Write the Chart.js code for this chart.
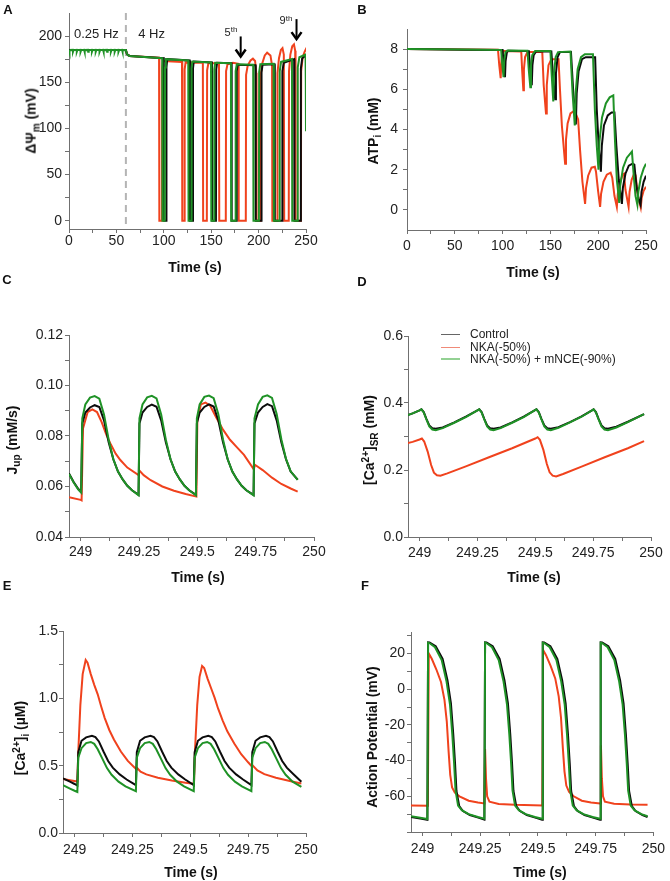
<!DOCTYPE html>
<html>
<head>
<meta charset="utf-8">
<script src="https://cdn.jsdelivr.net/npm/chart.js@4.4.0/dist/chart.umd.min.js"></script>
<style>
  body { margin: 0; background: #fff; width: 670px; height: 881px; position: relative; overflow: hidden;
         font-family: "Liberation Sans", Arial, Helvetica, sans-serif; color: #111; }
  .panel { position: absolute; }
  .lbl { position: absolute; font-weight: bold; font-size: 13px; transform: translate(-50%, -50%); }
  .xt { position: absolute; font-weight: bold; font-size: 14px; transform: translate(-50%, -50%); white-space: nowrap; }
  .yt { position: absolute; font-weight: bold; font-size: 14px; white-space: nowrap;
        transform: translate(-50%, -50%) rotate(-90deg); }
  .yt sub, .yt sup { font-size: 10px; }
  .leg { position: absolute; font-size: 12px; line-height: 14px; white-space: nowrap; color: #222; }
  .legln { position: absolute; width: 19px; }
</style>
</head>
<body>

<div class="lbl" style="left:8px;top:9px">A</div>
<div class="lbl" style="left:362px;top:9px">B</div>
<div class="lbl" style="left:7px;top:279px">C</div>
<div class="lbl" style="left:362px;top:281px">D</div>
<div class="lbl" style="left:7px;top:585px">E</div>
<div class="lbl" style="left:365px;top:585px">F</div>

<div class="xt" style="left:195px;top:267px">Time (s)</div>
<div class="xt" style="left:533px;top:272px">Time (s)</div>
<div class="xt" style="left:198px;top:577px">Time (s)</div>
<div class="xt" style="left:534px;top:577px">Time (s)</div>
<div class="xt" style="left:191px;top:872px">Time (s)</div>
<div class="xt" style="left:540px;top:872px">Time (s)</div>

<div class="yt" style="left:32px;top:121px">&Delta;&Psi;<sub>m</sub> (mV)</div>
<div class="yt" style="left:374px;top:131px">ATP<sub>i</sub> (mM)</div>
<div class="yt" style="left:13px;top:440px">J<sub>up</sub> (mM/s)</div>
<div class="yt" style="left:370px;top:440px">[Ca<sup>2+</sup>]<sub>SR</sub> (mM)</div>
<div class="yt" style="left:21px;top:738px">[Ca<sup>2+</sup>]<sub>i</sub> (&micro;M)</div>
<div class="yt" style="left:372px;top:737px">Action Potential (mV)</div>

<div class="legln" style="left:441px;top:334px;height:1px;background:#666"></div>
<div class="leg" style="left:470px;top:327px">Control</div>
<div class="legln" style="left:441px;top:347px;height:1px;background:#f08a78"></div>
<div class="leg" style="left:470px;top:340px">NKA(-50%)</div>
<div class="legln" style="left:441px;top:358px;height:2px;background:#93d193"></div>
<div class="leg" style="left:470px;top:352px">NKA(-50%) + mNCE(-90%)</div>

<script>
// ---------- tick values ----------
const longTicksX = [0, 25, 50, 75, 100, 125, 150, 175, 200, 225, 250];
const longLabelsX = [0, 50, 100, 150, 200, 250];
const zoomTicksX = [249, 249.125, 249.25, 249.375, 249.5, 249.625, 249.75, 249.875, 250];
const zoomLabelsX = [249, 249.25, 249.5, 249.75, 250];

const aTicksY = [0, 25, 50, 75, 100, 125, 150, 175, 200];
const aLabelsY = [0, 50, 100, 150, 200];
const bTicksY = [0, 1, 2, 3, 4, 5, 6, 7, 8];
const bLabelsY = [0, 2, 4, 6, 8];
const cTicksY = [0.04, 0.05, 0.06, 0.07, 0.08, 0.09, 0.10, 0.11, 0.12];
const cLabelsY = [0.04, 0.06, 0.08, 0.10, 0.12];
const dTicksY = [0, 0.1, 0.2, 0.3, 0.4, 0.5, 0.6];
const dLabelsY = [0, 0.2, 0.4, 0.6];
const eTicksY = [0, 0.25, 0.5, 0.75, 1.0, 1.25, 1.5];
const eLabelsY = [0, 0.5, 1.0, 1.5];
const fTicksY = [-80, -70, -60, -50, -40, -30, -20, -10, 0, 10, 20, 30];
const fLabelsY = [-60, -40, -20, 0, 20];

// ---------- A: mitochondrial membrane potential (mV) vs time (s) ----------
const aGreen = [[0,185],[0.2,183],[0.8,184.8],[4,185],[4.2,183],[4.8,184.8],[8,185],[8.2,183],[8.8,184.8],
  [12,185],[12.2,183],[12.8,184.8],[16,185],[16.2,183],[16.8,184.8],[20,185],[20.2,183],[20.8,184.8],
  [24,185],[24.2,183],[24.8,184.8],[28,185],[28.2,183],[28.8,184.8],[32,185],[32.2,183],[32.8,184.8],
  [36,185],[36.2,183],[36.8,184.8],[40,185],[40.2,183],[40.8,184.8],[44,185],[44.2,183],[44.8,184.8],
  [48,185],[48.2,183],[48.8,184.8],[52,185],[52.2,183],[52.8,184.8],[56,185],[56.2,183],[56.8,184.8],
  [60,185],[61,181],[62,179.5],[64,178.5],[98.3,176],[98.6,0],[101,0],[101.3,166],[102.1,175],
  [125.8,173.5],[126.1,0],[129,0],[129.3,165],[130.1,172.5],[149.8,171.5],[150.1,0],[153,0],[153.3,164],[154.2,171],
  [170.8,170.5],[171.1,0],[175.5,0],[175.8,162],[177,169.5],[194.3,169],[194.6,0],[200.3,0],[200.6,161],[201.8,169.5],
  [215.8,170],[216.1,0],[222,0],[222.3,162],[223.7,172],[235.2,175],[235.5,0],[241,0],[241.3,166],[243,177],
  [249.5,180],[249.8,150],[250,97]];
const aBlack = [[0,185],[60,185],[61,181],[62,179.5],[64,178.5],[100,176],[100.3,0],[102.5,0],[102.8,166],[103.6,175],
  [127.3,173.5],[127.6,0],[130.5,0],[130.8,165],[131.6,172.5],[150.8,171.5],[151.1,0],[155,0],[155.3,164],[156.2,171],
  [171.3,170.5],[171.6,0],[176.6,0],[176.9,162],[178,169],[196.7,168.5],[197,0],[202.8,0],[203.1,161],[204.2,169],
  [216.8,169.5],[217.1,0],[224.8,0],[225.1,162],[226.5,171],[237.5,175],[237.8,0],[244.3,0],[244.6,165],[246,176],[250,179]];
const aRed = [[0,185],[60,185],[61,181],[62,179.5],[64,178.5],[95,176.5],[95.3,0],[98,0],[98.3,165],[99.2,173],
  [119.2,172],[119.5,0],[121.7,0],[122,164],[123,171.5],[141.2,171],[141.5,0],[145.4,0],[145.7,163],[147,170.5],
  [158.2,170.5],[158.5,0],[165.4,0],[165.7,162],[167.2,169.5],[173,171],[178.7,170],[179,0],[186.5,0],[186.8,158],
  [188.5,168],[191.5,173.5],[194,175.5],[196.3,173],[197.5,160],[197.8,0],[202,0],[202.3,158],[204,171],[206.5,179],
  [209,182],[212.5,179],[214.2,168],[214.5,0],[219.6,0],[219.9,160],[221.5,176],[223.5,185],[225.2,187],[226.6,180],
  [227,0],[231.8,0],[232.1,162],[233.5,180],[235.5,189],[237.3,191],[238.6,184],[239,0],[244.6,0],[244.9,162],
  [246.5,177],[248.5,183],[249.5,185],[250,183]];

// ---------- B: ATP (mM) vs time (s) ----------
const bGreen = [[0,8],[60,7.98],[98.5,7.95],[99.5,7.3],[101,6.6],[101.6,7.4],[103,7.85],[105,7.93],[126,7.92],
  [127.5,6.9],[129,6.1],[129.7,7.2],[131,7.7],[134,7.9],[150,7.9],[151.5,6.6],[153,5.4],[153.8,6.8],[155.5,7.6],
  [158,7.85],[171,7.88],[173.2,5.8],[175.5,4.2],[176.4,5.8],[178.5,7.0],[182,7.6],[186,7.75],[194.5,7.75],[196.5,5.0],
  [198.5,3.2],[200.3,2.0],[201.3,3.4],[204,4.6],[208,5.3],[212,5.6],[215.8,5.7],[217.5,3.5],[219.5,1.5],[222,0.35],
  [223,1.2],[226,2.1],[230,2.6],[235.3,2.9],[237,1.8],[239,0.7],[241,0.25],[242,0.9],[244.5,1.6],[247.5,2.05],[250,2.3]];
const bBlack = [[0,8],[60,7.97],[100,7.95],[101,7.3],[102.5,6.6],[103.1,7.4],[104.5,7.85],[106,7.92],[127.5,7.9],
  [129,6.9],[130.5,6.2],[131.2,7.2],[132.5,7.7],[135,7.88],[151,7.88],[153,6.5],[155,5.5],[155.8,6.8],[157.5,7.6],
  [160,7.85],[171.5,7.85],[174,5.8],[176.6,4.25],[177.5,5.8],[179.5,6.9],[183,7.5],[187,7.6],[196.8,7.6],[198.5,5.0],
  [200.5,3.2],[202.8,1.9],[203.8,3.2],[206,4.2],[210,4.7],[214,4.85],[217,4.85],[219,3.2],[221.5,1.5],[224.8,0.3],
  [225.8,1.1],[228.5,1.8],[232,2.2],[236,2.3],[237.8,2.25],[240,1.2],[242.5,0.5],[244.3,0.25],[245.3,0.9],
  [247.5,1.4],[250,1.7]];
const bRed = [[0,8],[95,7.97],[95.3,7.9],[96.5,7.2],[98,6.55],[98.6,7.3],[99.5,7.75],[101,7.9],[119.5,7.88],
  [120.5,6.9],[121.7,5.95],[122.3,7.0],[123.5,7.6],[126,7.85],[141.5,7.85],[143,6.2],[145.4,4.8],[146.2,6.2],
  [148,7.2],[151,7.5],[158.5,7.5],[160,6.0],[162,4.2],[165.4,2.3],[166.3,3.5],[168,4.3],[171,4.8],[174,4.9],
  [176,4.85],[179,4.5],[181,3.0],[183.5,1.4],[186.3,0.3],[187.3,1.1],[189.5,1.7],[193,2.1],[196.5,2.15],
  [197.7,1.9],[200,0.9],[202,0.15],[203,0.8],[205.5,1.4],[209,1.75],[213,1.85],[214.7,1.6],[217,0.7],[219.5,0.15],
  [220.5,0.8],[222.5,1.3],[225.5,1.75],[227,1.8],[228.5,1.0],[231.8,0.15],[232.8,0.9],[235,1.5],[238,1.85],
  [239.2,1.7],[241.5,0.7],[244.5,0.12],[245.5,0.6],[247.5,0.95],[250,1.15]];

// ---------- C: Jup (mM/s), last second ----------
const cGreen = [[248.95,0.065],[248.97,0.0616],[248.99,0.0588],[249.002,0.0576],[249.007,0.087],[249.02,0.0925],
  [249.04,0.0952],[249.06,0.0958],[249.08,0.0948],[249.1,0.0885],[249.12,0.0785],[249.14,0.0708],[249.16,0.0659],
  [249.18,0.0628],[249.2,0.0603],[249.22,0.0585],[249.248,0.0565],
  [249.252,0.087],[249.265,0.0925],[249.285,0.0953],[249.305,0.0959],[249.325,0.0949],[249.345,0.0885],[249.365,0.0785],
  [249.385,0.0708],[249.405,0.0659],[249.425,0.0628],[249.445,0.0603],[249.465,0.0585],[249.494,0.0565],
  [249.498,0.087],[249.51,0.0925],[249.53,0.0955],[249.55,0.096],[249.57,0.095],[249.59,0.0886],[249.61,0.0786],
  [249.63,0.0708],[249.65,0.0659],[249.67,0.0628],[249.69,0.0603],[249.71,0.0585],[249.741,0.0565],
  [249.745,0.087],[249.76,0.0925],[249.78,0.0955],[249.8,0.0961],[249.82,0.0951],[249.84,0.0887],[249.86,0.0787],
  [249.88,0.0709],[249.9,0.066],[249.93,0.0626]];
const cBlack = [[248.95,0.0652],[248.97,0.0618],[248.99,0.059],[249.002,0.0578],[249.007,0.085],[249.02,0.0893],
  [249.04,0.0913],[249.06,0.0922],[249.08,0.0915],[249.1,0.0862],[249.12,0.0775],[249.14,0.0708],[249.16,0.0659],
  [249.18,0.0628],[249.2,0.0603],[249.22,0.0585],[249.248,0.0567],
  [249.252,0.085],[249.265,0.0893],[249.285,0.0915],[249.305,0.0924],[249.325,0.0916],[249.345,0.0862],[249.365,0.0775],
  [249.385,0.0708],[249.405,0.0659],[249.425,0.0628],[249.445,0.0603],[249.465,0.0585],[249.494,0.0567],
  [249.498,0.085],[249.51,0.0893],[249.53,0.0915],[249.55,0.0925],[249.57,0.0917],[249.59,0.0862],[249.61,0.0775],
  [249.63,0.0708],[249.65,0.0659],[249.67,0.0628],[249.69,0.0603],[249.71,0.0585],[249.741,0.0567],
  [249.745,0.085],[249.76,0.0893],[249.78,0.0915],[249.8,0.0926],[249.82,0.0918],[249.84,0.0862],[249.86,0.0775],
  [249.88,0.0708],[249.9,0.0659],[249.93,0.0627]];
const cRed = [[248.95,0.0558],[249.0,0.0547],[249.004,0.0545],[249.01,0.083],[249.03,0.0895],[249.05,0.0905],
  [249.07,0.0895],[249.09,0.0855],[249.11,0.0805],[249.13,0.0765],[249.15,0.073],[249.17,0.0705],[249.2,0.0675],
  [249.248,0.0645],[249.252,0.0663],[249.27,0.0645],[249.3,0.0625],[249.35,0.06],[249.4,0.0583],[249.45,0.057],
  [249.496,0.056],[249.5,0.086],[249.515,0.0925],[249.535,0.0932],[249.555,0.092],[249.58,0.0875],[249.61,0.0825],
  [249.64,0.0785],[249.67,0.0755],[249.7,0.0725],[249.742,0.0668],[249.747,0.0686],[249.78,0.0665],[249.82,0.0635],
  [249.86,0.061],[249.9,0.0592],[249.93,0.058]];

// ---------- D: SR calcium (mM) ----------
const dGreen = [[248.94,0.362],[248.97,0.369],[249.0,0.378],[249.008,0.381],[249.018,0.372],[249.03,0.35],
  [249.042,0.33],[249.055,0.321],[249.07,0.319],[249.1,0.325],[249.15,0.341],[249.2,0.358],[249.25,0.378],
  [249.258,0.381],[249.268,0.372],[249.28,0.35],[249.292,0.33],[249.305,0.321],[249.32,0.319],[249.35,0.325],
  [249.4,0.341],[249.45,0.358],[249.497,0.378],[249.505,0.381],[249.515,0.372],[249.527,0.35],[249.539,0.33],
  [249.552,0.321],[249.567,0.319],[249.6,0.326],[249.65,0.342],[249.7,0.359],[249.745,0.378],[249.752,0.381],
  [249.762,0.372],[249.774,0.35],[249.786,0.33],[249.799,0.321],[249.814,0.319],[249.85,0.327],[249.9,0.343],
  [249.97,0.367]];
const dBlack = [[248.94,0.362],[248.97,0.369],[249.0,0.378],[249.008,0.381],[249.018,0.373],[249.03,0.352],
  [249.042,0.333],[249.055,0.325],[249.07,0.323],[249.1,0.327],[249.15,0.342],[249.2,0.359],[249.25,0.378],
  [249.258,0.381],[249.268,0.373],[249.28,0.352],[249.292,0.333],[249.305,0.325],[249.32,0.323],[249.35,0.327],
  [249.4,0.342],[249.45,0.359],[249.497,0.378],[249.505,0.381],[249.515,0.373],[249.527,0.352],[249.539,0.333],
  [249.552,0.325],[249.567,0.323],[249.6,0.328],[249.65,0.343],[249.7,0.36],[249.745,0.378],[249.752,0.381],
  [249.762,0.373],[249.774,0.352],[249.786,0.333],[249.799,0.325],[249.814,0.323],[249.85,0.329],[249.9,0.344],
  [249.97,0.367]];
const dRed = [[248.94,0.279],[248.97,0.284],[249.0,0.291],[249.01,0.294],[249.02,0.285],[249.035,0.255],
  [249.05,0.215],[249.062,0.192],[249.075,0.184],[249.09,0.183],[249.12,0.19],[249.2,0.211],[249.3,0.238],
  [249.4,0.265],[249.5,0.294],[249.51,0.298],[249.52,0.29],[249.535,0.26],[249.55,0.218],[249.562,0.193],
  [249.575,0.183],[249.59,0.181],[249.62,0.188],[249.7,0.21],[249.8,0.238],[249.9,0.265],[249.97,0.286]];

// ---------- E: cytosolic calcium (uM) ----------
const eGreen = [[248.95,0.355],[248.98,0.33],[249.0,0.314],[249.012,0.305],[249.016,0.56],[249.03,0.63],
  [249.05,0.668],[249.07,0.676],[249.085,0.662],[249.1,0.622],[249.12,0.552],[249.14,0.482],[249.16,0.432],
  [249.19,0.381],[249.22,0.346],[249.265,0.31],
  [249.269,0.56],[249.283,0.63],[249.303,0.668],[249.323,0.676],[249.338,0.662],[249.353,0.622],[249.373,0.552],
  [249.393,0.482],[249.413,0.432],[249.443,0.381],[249.473,0.346],[249.515,0.31],
  [249.519,0.56],[249.533,0.63],[249.553,0.668],[249.573,0.676],[249.588,0.662],[249.603,0.622],[249.623,0.552],
  [249.643,0.482],[249.663,0.432],[249.693,0.381],[249.723,0.346],[249.764,0.31],
  [249.768,0.56],[249.782,0.63],[249.802,0.668],[249.822,0.676],[249.837,0.662],[249.852,0.622],[249.872,0.552],
  [249.892,0.482],[249.912,0.432],[249.942,0.381],[249.98,0.342]];
const eBlack = [[248.95,0.405],[248.98,0.381],[249.0,0.364],[249.012,0.352],[249.016,0.6],[249.03,0.685],
  [249.05,0.71],[249.075,0.722],[249.09,0.712],[249.105,0.68],[249.125,0.605],[249.145,0.535],[249.165,0.485],
  [249.195,0.435],[249.225,0.397],[249.265,0.355],
  [249.269,0.6],[249.283,0.685],[249.303,0.71],[249.328,0.722],[249.343,0.712],[249.358,0.68],[249.378,0.605],
  [249.398,0.535],[249.418,0.485],[249.448,0.435],[249.478,0.397],[249.515,0.355],
  [249.519,0.6],[249.533,0.685],[249.553,0.71],[249.578,0.722],[249.593,0.712],[249.608,0.68],[249.628,0.605],
  [249.648,0.535],[249.668,0.485],[249.698,0.435],[249.728,0.397],[249.764,0.355],
  [249.768,0.6],[249.782,0.685],[249.802,0.71],[249.827,0.722],[249.842,0.712],[249.857,0.68],[249.877,0.605],
  [249.897,0.535],[249.917,0.485],[249.947,0.435],[249.98,0.38]];
const eRed = [[248.95,0.402],[248.98,0.392],[249.012,0.382],[249.016,0.6],[249.025,0.95],[249.035,1.18],
  [249.048,1.285],[249.056,1.265],[249.07,1.18],[249.085,1.1],[249.1,1.03],[249.115,0.94],[249.13,0.855],
  [249.15,0.765],[249.17,0.695],[249.2,0.605],[249.23,0.535],[249.26,0.485],[249.268,0.47],[249.272,0.48],
  [249.285,0.455],[249.31,0.435],[249.36,0.41],[249.42,0.39],[249.48,0.373],[249.516,0.365],[249.52,0.6],
  [249.53,0.95],[249.54,1.16],[249.551,1.24],[249.56,1.225],[249.575,1.145],[249.59,1.075],[249.605,1.005],
  [249.62,0.925],[249.64,0.835],[249.66,0.755],[249.69,0.665],[249.72,0.585],[249.75,0.525],[249.766,0.495],
  [249.77,0.5],[249.79,0.465],[249.82,0.437],[249.87,0.41],[249.93,0.386],[249.98,0.367]];

// ---------- F: action potential (mV) ----------
const fGreen = [[248.95,-71.2],[248.99,-72],[249.021,-72.7],[249.024,26],[249.03,25.8],[249.054,23.5],[249.083,16.3],
  [249.104,4.2],[249.119,-8.7],[249.129,-25.4],[249.137,-42],[249.143,-56.9],[249.154,-65.2],[249.17,-67.8],
  [249.2,-70],[249.24,-71.6],[249.268,-72.6],
  [249.271,26],[249.277,25.8],[249.301,23.5],[249.33,16.3],[249.351,4.2],[249.366,-8.7],[249.376,-25.4],[249.384,-42],
  [249.39,-56.9],[249.401,-65.2],[249.417,-67.8],[249.447,-70],[249.487,-71.6],[249.518,-72.6],
  [249.521,26],[249.527,25.8],[249.551,23.5],[249.58,16.3],[249.601,4.2],[249.616,-8.7],[249.626,-25.4],[249.634,-42],
  [249.64,-56.9],[249.651,-65.2],[249.667,-67.8],[249.697,-70],[249.737,-71.6],[249.769,-72.6],
  [249.772,26],[249.778,25.8],[249.802,23.5],[249.831,16.3],[249.852,4.2],[249.867,-8.7],[249.877,-25.4],[249.885,-42],
  [249.891,-56.9],[249.902,-65.2],[249.918,-67.8],[249.948,-70],[249.975,-71.2]];
const fBlack = [[248.95,-71.6],[248.99,-72.5],[249.021,-73.2],[249.024,26.2],[249.03,26.1],[249.057,24],[249.087,17],
  [249.108,5],[249.123,-8],[249.133,-25],[249.141,-42],[249.147,-57],[249.159,-65.5],[249.175,-68.3],
  [249.205,-70.5],[249.245,-72.1],[249.268,-73.1],
  [249.271,26.2],[249.277,26.1],[249.304,24],[249.334,17],[249.355,5],[249.37,-8],[249.38,-25],[249.388,-42],
  [249.394,-57],[249.406,-65.5],[249.422,-68.3],[249.452,-70.5],[249.492,-72.1],[249.518,-73.1],
  [249.521,26.2],[249.527,26.1],[249.554,24],[249.584,17],[249.605,5],[249.62,-8],[249.63,-25],[249.638,-42],
  [249.644,-57],[249.656,-65.5],[249.672,-68.3],[249.702,-70.5],[249.742,-72.1],[249.769,-73.1],
  [249.772,26.2],[249.778,26.1],[249.805,24],[249.835,17],[249.856,5],[249.871,-8],[249.881,-25],[249.889,-42],
  [249.895,-57],[249.907,-65.5],[249.923,-68.3],[249.953,-70.5],[249.975,-71.6]];
const fRed = [[248.95,-65.2],[249.023,-65.3],[249.027,20],[249.04,17],[249.06,11],[249.08,4],[249.095,-6],
  [249.105,-18],[249.113,-35],[249.12,-48],[249.128,-55],[249.14,-58],[249.16,-60],[249.2,-62.5],[249.24,-63.5],
  [249.268,-64],[249.271,-33.5],[249.275,-50],[249.28,-60],[249.29,-63],[249.33,-64.3],[249.4,-64.8],
  [249.519,-65.2],[249.522,22],[249.535,19],[249.555,13],[249.575,6],[249.59,-4],[249.6,-16],[249.608,-33],
  [249.615,-46],[249.623,-54],[249.635,-57.5],[249.655,-60],[249.69,-62.5],[249.73,-63.5],[249.77,-64],
  [249.773,-31.5],[249.777,-50],[249.782,-60],[249.79,-63],[249.83,-64.2],[249.9,-64.6],[249.975,-64.8]];

// ---------- helpers ----------
const FONT = '"Liberation Sans", Arial, Helvetica, sans-serif';
const RED = '#f0421d', GREEN = '#1f9226', BLACK = '#0c0c0c', AXIS = '#707070';

function pts(arr) {
  return arr.map(function(p) { return { x: p[0], y: p[1] }; });
}
function ticksFrom(list) {
  return function(scale) { scale.ticks = list.map(function(v) { return { value: v }; }); };
}
function labelFrom(shown, fmt) {
  return function(value) {
    for (let i = 0; i < shown.length; i++) {
      if (Math.abs(shown[i] - value) < 1e-9) return fmt(value);
    }
    return '';
  };
}

// annotations in panel A (frequency labels, stimulus change line, arrows)
const panelAMarks = {
  id: 'panelAMarks',
  beforeDatasetsDraw(chart) {
    if (chart.canvas.id !== 'cA') return;
    const ctx = chart.ctx, ca = chart.chartArea;
    const px = chart.scales.x.getPixelForValue(60);
    ctx.save();
    ctx.strokeStyle = '#b4b4b4';
    ctx.lineWidth = 2;
    ctx.setLineDash([7, 5]);
    ctx.beginPath();
    ctx.moveTo(px, ca.top);
    ctx.lineTo(px, ca.bottom);
    ctx.stroke();
    ctx.restore();
  },
  afterDraw(chart) {
    if (chart.canvas.id !== 'cA') return;
    const ctx = chart.ctx, sx = chart.scales.x, sy = chart.scales.y;
    ctx.save();
    ctx.fillStyle = '#222';
    ctx.textBaseline = 'middle';
    ctx.font = '13px ' + FONT;
    ctx.textAlign = 'left';
    ctx.fillText('0.25 Hz', sx.getPixelForValue(5.3), sy.getPixelForValue(201.5));
    ctx.fillText('4 Hz', sx.getPixelForValue(73), sy.getPixelForValue(201.5));
    ctx.textAlign = 'center';
    ctx.font = '11px ' + FONT;
    ctx.fillText('5', sx.getPixelForValue(167.2), sy.getPixelForValue(203.4));
    ctx.fillText('9', sx.getPixelForValue(225.2), sy.getPixelForValue(216.4));
    ctx.font = '8px ' + FONT;
    ctx.fillText('th', sx.getPixelForValue(174.1), sy.getPixelForValue(206.6));
    ctx.fillText('th', sx.getPixelForValue(232.1), sy.getPixelForValue(218.5));
    const arrows = [[181.1, 199.6, 177.9], [240.0, 218.4, 196.7]];
    ctx.strokeStyle = '#000';
    arrows.forEach(function(a) {
      const x = sx.getPixelForValue(a[0]), y1 = sy.getPixelForValue(a[1]), y2 = sy.getPixelForValue(a[2]);
      ctx.lineWidth = 2;
      ctx.beginPath(); ctx.moveTo(x, y1); ctx.lineTo(x, y2 - 1); ctx.stroke();
      ctx.lineWidth = 2.5;
      ctx.beginPath(); ctx.moveTo(x - 5, y2 - 7); ctx.lineTo(x, y2); ctx.lineTo(x + 5, y2 - 7); ctx.stroke();
    });
    ctx.restore();
  }
};

function makePanel(p) {
  const YW = 45, XH = 30;
  const div = document.createElement('div');
  div.className = 'panel';
  div.style.left = p.box[0] + 'px';
  div.style.top = p.box[1] + 'px';
  div.style.width = p.box[2] + 'px';
  div.style.height = p.box[3] + 'px';
  const canvas = document.createElement('canvas');
  canvas.id = p.id;
  div.appendChild(canvas);
  document.body.insertBefore(div, document.body.firstChild);

  const pad = {
    left: p.area[0] - p.box[0] - YW,
    top: p.area[1] - p.box[1],
    right: p.box[0] + p.box[2] - p.area[2],
    bottom: p.box[1] + p.box[3] - p.area[3] - XH
  };
  const tickFont = { family: FONT, size: 14 };

  return new Chart(canvas, {
    type: 'line',
    data: {
      datasets: p.series.map(function(s, i) {
        return {
          label: s.label, data: pts(s.data), borderColor: s.color, borderWidth: 2,
          pointRadius: 0, tension: 0, fill: false, order: i
        };
      })
    },
    options: {
      responsive: true, maintainAspectRatio: false, animation: false,
      layout: { padding: pad },
      plugins: { legend: { display: false }, tooltip: { enabled: false } },
      scales: {
        x: {
          type: 'linear', min: p.xr[0], max: p.xr[1],
          afterBuildTicks: ticksFrom(p.xt),
          afterFit: function(s) { s.height = XH; },
          ticks: { callback: labelFrom(p.xl, String), autoSkip: false, maxRotation: 0,
                   padding: p.xpad, color: '#222', font: tickFont },
          grid: { drawOnChartArea: false, tickLength: 4, color: AXIS },
          border: { color: AXIS, width: 1 }
        },
        y: {
          type: 'linear', min: p.yr[0], max: p.yr[1],
          afterBuildTicks: ticksFrom(p.yt),
          afterFit: function(s) { s.width = YW; },
          ticks: { callback: labelFrom(p.yl, p.yf), autoSkip: false,
                   padding: p.ypad, color: '#222', font: tickFont },
          grid: { drawOnChartArea: false, tickLength: 4, color: AXIS },
          border: { color: AXIS, width: 1 }
        }
      }
    },
    plugins: [panelAMarks]
  });
}

const longSeries = function(g, k, r) {
  return [
    { label: 'NKA(-50%) + mNCE(-90%)', data: g, color: GREEN },
    { label: 'Control', data: k, color: BLACK },
    { label: 'NKA(-50%)', data: r, color: RED }
  ];
};

makePanel({ id: 'cA', box: [0, 0, 335, 290], area: [69, 13, 306, 229],
  xr: [0, 250], yr: [-9, 225], xt: longTicksX, xl: longLabelsX, yt: aTicksY, yl: aLabelsY,
  yf: String, xpad: 0, ypad: 3, series: longSeries(aGreen, aBlack, aRed) });
makePanel({ id: 'cB', box: [335, 0, 335, 290], area: [407, 29, 646, 230],
  xr: [0, 250], yr: [-1, 9], xt: longTicksX, xl: longLabelsX, yt: bTicksY, yl: bLabelsY,
  yf: String, xpad: 4, ypad: 5, series: longSeries(bGreen, bBlack, bRed) });
makePanel({ id: 'cC', box: [0, 290, 335, 295], area: [69, 335, 314, 537],
  xr: [248.95, 250], yr: [0.04, 0.12], xt: zoomTicksX, xl: zoomLabelsX, yt: cTicksY, yl: cLabelsY,
  yf: function(v) { return v.toFixed(2); }, xpad: 3, ypad: 2, series: longSeries(cGreen, cBlack, cRed) });
makePanel({ id: 'cD', box: [335, 290, 335, 295], area: [408, 336, 651, 537],
  xr: [248.95, 250], yr: [0, 0.6], xt: zoomTicksX, xl: zoomLabelsX, yt: dTicksY, yl: dLabelsY,
  yf: function(v) { return v.toFixed(1); }, xpad: 4, ypad: 1, series: longSeries(dGreen, dBlack, dRed) });
makePanel({ id: 'cE', box: [0, 585, 335, 296], area: [63, 631, 306, 833],
  xr: [248.95, 250], yr: [0, 1.5], xt: zoomTicksX, xl: zoomLabelsX, yt: eTicksY, yl: eLabelsY,
  yf: function(v) { return v.toFixed(1); }, xpad: 5, ypad: 1, series: longSeries(eGreen, eBlack, eRed) });
makePanel({ id: 'cF', box: [335, 585, 335, 296], area: [411, 632, 656, 832],
  xr: [248.95, 250], yr: [-80, 32], xt: zoomTicksX, xl: zoomLabelsX, yt: fTicksY, yl: fLabelsY,
  yf: String, xpad: 5, ypad: 2, series: longSeries(fGreen, fBlack, fRed) });
</script>
</body>
</html>
